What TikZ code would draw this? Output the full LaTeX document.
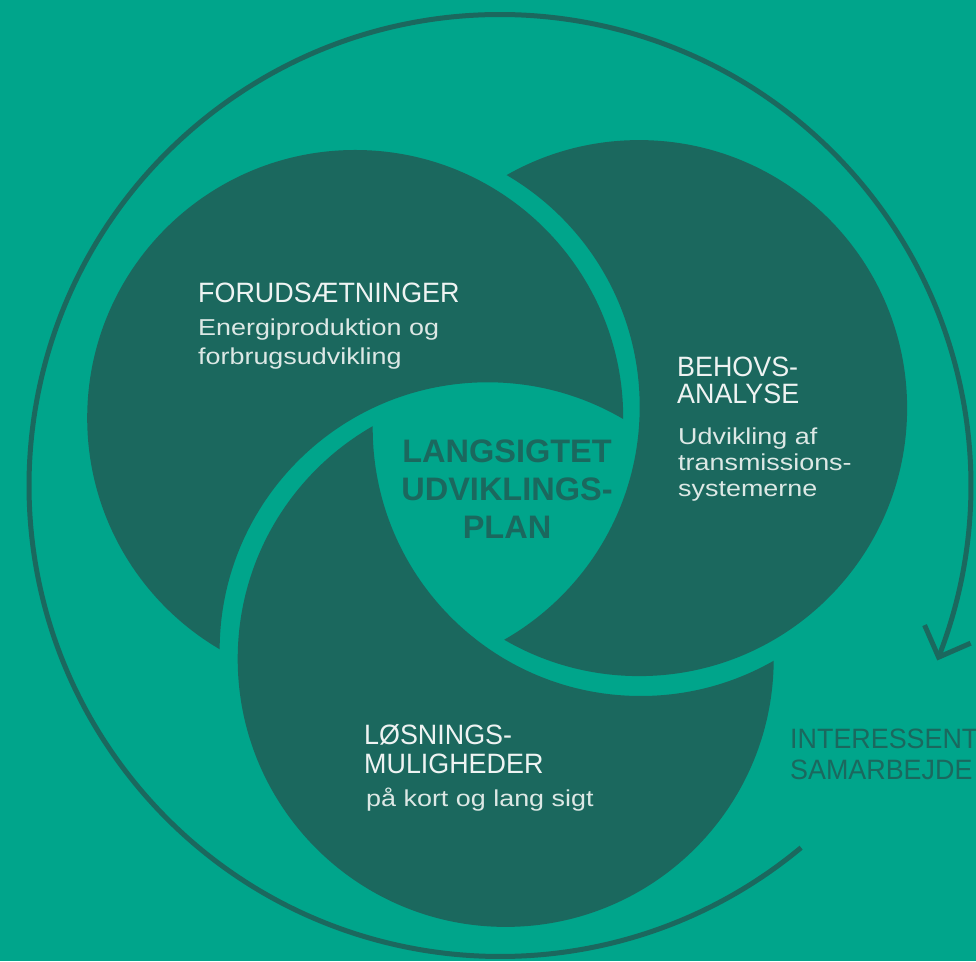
\documentclass[tikz,border=0pt]{standalone}
\usepackage{fontspec}
\setmainfont{Liberation Sans}
\newfontfamily\titlefont[FakeStretch=0.96]{Liberation Sans}
\newfontfamily\subfont[FakeStretch=1.17]{Liberation Sans}
\usetikzlibrary{calc}
\definecolor{bgteal}{HTML}{00A58B}
\definecolor{darkteal}{HTML}{1B685E}
\definecolor{titletext}{HTML}{EEF3F2}
\definecolor{subtext}{HTML}{DCE8E5}
\begin{document}
\begin{tikzpicture}[x=1pt,y=1pt,
  titletxt/.style={anchor=base west, inner sep=0pt, text=titletext, font=\titlefont\fontsize{28}{30}\selectfont},
  subtxt/.style={anchor=base west, inner sep=0pt, text=subtext, font=\subfont\fontsize{23}{25}\selectfont},
  centretxt/.style={anchor=base, inner sep=0pt, text=darkteal, font=\bfseries\fontsize{32.5}{34}\selectfont},
  outertxt/.style={anchor=base west, inner sep=0pt, text=darkteal, font=\titlefont\fontsize{28}{30}\selectfont},
  cyclearc/.style={draw=darkteal, line width=5pt},
  disc/.style={fill=darkteal, even odd rule}]
\useasboundingbox (0,0) rectangle (976,961);
\clip (0,0) rectangle (976,961);
\fill[bgteal] (0,0) rectangle (976,961);
\def\rad{268}
% circle centres
\coordinate (cL) at (355.2,543.0);
\coordinate (cR) at (639.1,552.9);
\coordinate (cB) at (505.7,302.1);
% shifted cutters (the teal gaps)
\coordinate (sL) at (371.7,554.3);
\coordinate (sR) at (640.7,533.0);
\coordinate (sB) at (487.65,310.7);
\begin{scope}
  \clip (cL) circle[radius=\rad];
  \path[disc] (-60,-60) rectangle (1036,1021) (sB) circle[radius=\rad];
\end{scope}
\begin{scope}
  \clip (cR) circle[radius=\rad];
  \path[disc] (-60,-60) rectangle (1036,1021) (sL) circle[radius=\rad];
\end{scope}
\begin{scope}
  \clip (cB) circle[radius=\rad];
  \path[disc] (-60,-60) rectangle (1036,1021) (sR) circle[radius=\rad];
\end{scope}
% outer cycle arrow
\coordinate (oc) at (500,475.5);
\coordinate (arcstart) at ($(oc)+(-50.26:471)$);
\coordinate (tip) at ($(oc)+(-21.38:471)$);
\draw[cyclearc] (arcstart) arc[start angle=-50.26, end angle=-381.38, radius=471];
\draw[cyclearc, line join=miter] ($(tip)+(113.6:35)$) -- (tip) -- ($(tip)+(23.6:35)$);
% texts
\node[titletxt] (forud) at (198,658) {FORUDSÆTNINGER};
\node[subtxt] (forudsubA) at (198,625) {Energiproduktion og};
\node[subtxt] (forudsubB) at (198,596) {forbrugsudvikling};
\node[titletxt] (behovA) at (677,584) {BEHOVS-};
\node[titletxt] (behovB) at (677,557) {ANALYSE};
\node[subtxt] (behovsubA) at (678,516) {Udvikling af};
\node[subtxt] (behovsubB) at (678,490) {transmissions-};
\node[subtxt] (behovsubC) at (678,464) {systemerne};
\node[titletxt] (losA) at (364,217) {LØSNINGS-};
\node[titletxt] (losB) at (364,188) {MULIGHEDER};
\node[subtxt] (lossub) at (366,155) {på kort og lang sigt};
\node[centretxt] (centreA) at (507,498) {LANGSIGTET};
\node[centretxt] (centreB) at (507,460) {UDVIKLINGS-};
\node[centretxt] (centreC) at (507,422) {PLAN};
\node[outertxt] (interA) at (790,213) {INTERESSENT};
\node[outertxt] (interB) at (790,182) {SAMARBEJDE};
\end{tikzpicture}
\end{document}
